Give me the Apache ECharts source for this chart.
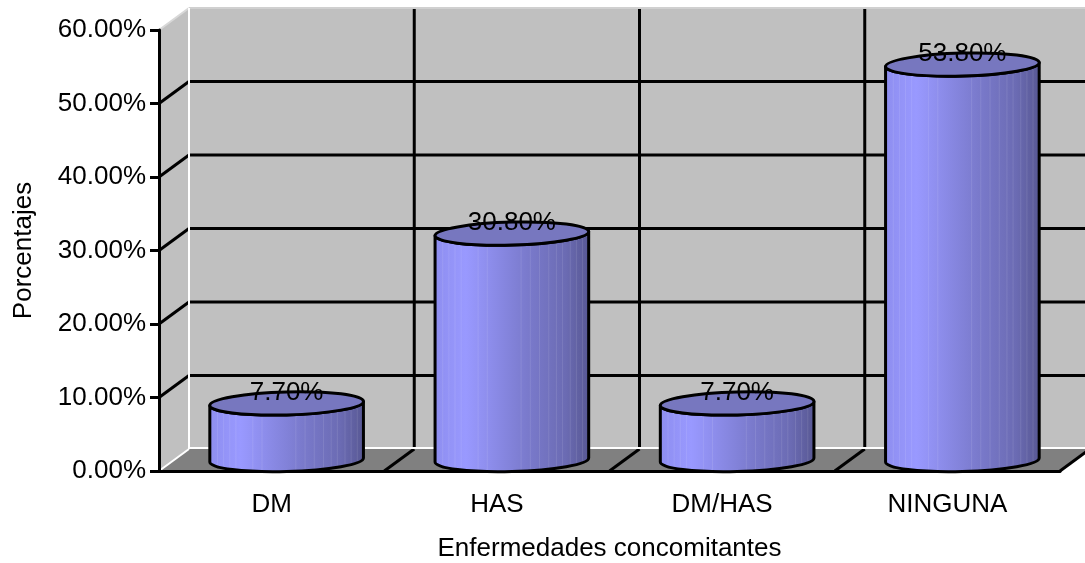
<!DOCTYPE html>
<html>
<head>
<meta charset="utf-8">
<style>html,body{margin:0;padding:0;background:#fff}#chart{width:1085px;height:563px}</style>
<script src="https://cdn.jsdelivr.net/npm/echarts@6/dist/echarts.min.js"></script>
</head>
<body>
<div id="chart"></div>
<script>
const categories = ['DM', 'HAS', 'DM/HAS', 'NINGUNA'];
const values = [7.7, 30.8, 7.7, 53.8];
const yTicks = [0, 10, 20, 30, 40, 50, 60];

const FONT = '"Liberation Sans", Arial, sans-serif';
const FONT_SIZE = 26;
const DEPTH_X = 30, DEPTH_Y = -22;
// Facet seams on the cylinder body, as fractions of its width
const seams = [0.05, 0.09, 0.13, 0.17, 0.28, 0.34, 0.56, 0.62, 0.68, 0.74, 0.79, 0.83, 0.88, 0.92, 0.96];
const pct = v => v.toFixed(2) + '%';

// Pseudo-3D room: side wall, back wall, floor and their grid lines
function renderRoom(params, api) {
  const o = api.coord([0, 0]);
  const band = api.size([1, 0])[0];
  const x0 = o[0] - band / 2;
  const x1 = x0 + band * categories.length;
  const y0 = o[1];
  const yT = api.coord([0, 60])[1];
  const dx = DEPTH_X, dy = DEPTH_Y;
  const poly = (points, fill) => ({ type: 'polygon', shape: { points }, style: { fill } });
  const line = (a, b, stroke, w) => ({
    type: 'line',
    shape: { x1: a[0], y1: a[1], x2: b[0], y2: b[1] },
    style: { stroke, lineWidth: w }
  });
  const kids = [
    poly([[x0 + dx, yT + dy], [x1 + dx, yT + dy], [x1 + dx, y0 + dy], [x0 + dx, y0 + dy]], '#c0c0c0'),
    poly([[x0, yT], [x0 + dx, yT + dy], [x0 + dx, y0 + dy], [x0, y0]], '#c0c0c0'),
    poly([[x0, y0], [x1, y0], [x1 + dx, y0 + dy], [x0 + dx, y0 + dy]], '#808080')
  ];
  yTicks.forEach(t => {
    const y = api.coord([0, t])[1];
    if (t > 0 && t < 60) {
      kids.push(line([x0, y], [x0 + dx, y + dy], '#000', 3));
      kids.push(line([x0 + dx, y + dy], [x1 + dx, y + dy], '#000', 3));
    }
  });
  for (let i = 1; i <= categories.length; i++) {
    const x = x0 + band * i;
    kids.push(line([x, y0], [x + dx, y0 + dy], '#000', 3));
    if (i < categories.length) kids.push(line([x + dx, y0 + dy], [x + dx, yT + dy], '#000', 3));
  }
  kids.push(line([x0, yT], [x0 + dx, yT + dy], '#d8d8d8', 2));
  kids.push(line([x0 + dx, yT + dy], [x1 + dx, yT + dy], '#d0d0d0', 2));
  kids.push(line([x0 + dx, yT + dy], [x0 + dx, y0 + dy], '#fff', 2));
  kids.push(line([x0 + dx, y0 + dy - 1], [x1 + dx, y0 + dy - 1], '#fff', 2));
  kids.push(line([x0, y0], [x0 + dx, y0 + dy], '#fff', 2));
  return { type: 'group', children: kids };
}

// One cylinder per category, standing mid-depth on the floor; slightly sheared for perspective
function renderCylinder(params, api) {
  const cat = api.value(0), val = api.value(1);
  const base = api.coord([cat, 0]);
  const top = api.coord([cat, val]);
  const band = api.size([1, 0])[0];
  const rx = band * 0.341, ry = 11.5, tilt = 2;
  const cx = base[0] + DEPTH_X / 2;
  const by = base[1] + DEPTH_Y / 2;
  const ty = top[1] + DEPTH_Y / 2;
  const k = 0.5523;
  const P = (u, v, cy) => (cx + u * rx) + ' ' + (cy + v * ry - u * tilt);
  const lowerArc = (cy, from) => from < 0
    ? `C${P(-1, k, cy)} ${P(-k, 1, cy)} ${P(0, 1, cy)}C${P(k, 1, cy)} ${P(1, k, cy)} ${P(1, 0, cy)}`
    : `C${P(1, k, cy)} ${P(k, 1, cy)} ${P(0, 1, cy)}C${P(-k, 1, cy)} ${P(-1, k, cy)} ${P(-1, 0, cy)}`;
  const upperArc = cy =>
    `C${P(-1, -k, cy)} ${P(-k, -1, cy)} ${P(0, -1, cy)}C${P(k, -1, cy)} ${P(1, -k, cy)} ${P(1, 0, cy)}`;
  const bodyPath = `M${P(-1, 0, ty)}L${P(-1, 0, by)}${lowerArc(by, -1)}L${P(1, 0, ty)}${lowerArc(ty, 1)}Z`;
  const capPath = `M${P(-1, 0, ty)}${upperArc(ty)}${lowerArc(ty, 1)}Z`;
  const seamLines = seams.map(f => {
    const u = f * 2 - 1;
    const v = Math.sqrt(1 - u * u);
    return {
      type: 'line',
      shape: {
        x1: cx + u * rx, y1: ty + v * ry - u * tilt + 1,
        x2: cx + u * rx, y2: by + v * ry - u * tilt - 1
      },
      style: { stroke: 'rgba(255,255,255,0.1)', lineWidth: 1 }
    };
  });
  return {
    type: 'group',
    children: [
      {
        type: 'path',
        shape: { pathData: bodyPath },
        style: {
          fill: new echarts.graphic.LinearGradient(0, 0, 1, 0, [
            { offset: 0, color: '#8e8ef0' },
            { offset: 0.2, color: '#9999ff' },
            { offset: 0.6, color: '#7a7acc' },
            { offset: 0.85, color: '#6b6bb3' },
            { offset: 1, color: '#585894' }
          ])
        }
      },
      ...seamLines,
      {
        type: 'path',
        shape: { pathData: bodyPath },
        style: { fill: 'none', stroke: '#000', lineWidth: 3, lineJoin: 'round' }
      },
      {
        type: 'path',
        shape: { pathData: capPath },
        style: { fill: '#7777bf', stroke: '#000', lineWidth: 3 }
      },
      {
        type: 'text',
        style: {
          x: cx, y: ty - ry + 1,
          text: pct(val), fill: '#000',
          font: FONT_SIZE + 'px ' + FONT, align: 'center', verticalAlign: 'middle'
        }
      }
    ]
  };
}

const chart = echarts.init(document.getElementById('chart'), null, { renderer: 'canvas' });
chart.setOption({
  animation: false,
  backgroundColor: '#fff',
  grid: { left: 159, right: 25, top: 30, bottom: 92, outerBoundsMode: 'none' },
  xAxis: {
    type: 'category', data: categories,
    name: 'Enfermedades concomitantes', nameLocation: 'middle', nameGap: 65,
    nameTextStyle: { fontFamily: FONT, fontSize: FONT_SIZE, color: '#000' },
    axisLine: { lineStyle: { color: '#000', width: 3 } },
    axisTick: { alignWithLabel: false, length: 9, lineStyle: { color: '#000', width: 3 } },
    axisLabel: { fontFamily: FONT, fontSize: FONT_SIZE, color: '#000', margin: 21 },
    splitLine: { show: false }
  },
  yAxis: {
    type: 'value', min: 0, max: 60, interval: 10,
    name: 'Porcentajes', nameLocation: 'middle', nameGap: 122,
    nameTextStyle: { fontFamily: FONT, fontSize: FONT_SIZE, color: '#000' },
    axisLine: { show: true, lineStyle: { color: '#000', width: 3 } },
    axisTick: { show: true, length: 9, lineStyle: { color: '#000', width: 3 } },
    axisLabel: { fontFamily: FONT, fontSize: FONT_SIZE, color: '#000', margin: 13, formatter: pct },
    splitLine: { show: false }
  },
  series: [
    { type: 'custom', z: -1, clip: false, silent: true, renderItem: renderRoom, data: [[0, 0]] },
    {
      type: 'custom', z: 3, clip: false, renderItem: renderCylinder,
      encode: { x: 0, y: 1 },
      data: values.map((v, i) => [i, v])
    }
  ]
});
</script>
</body>
</html>
